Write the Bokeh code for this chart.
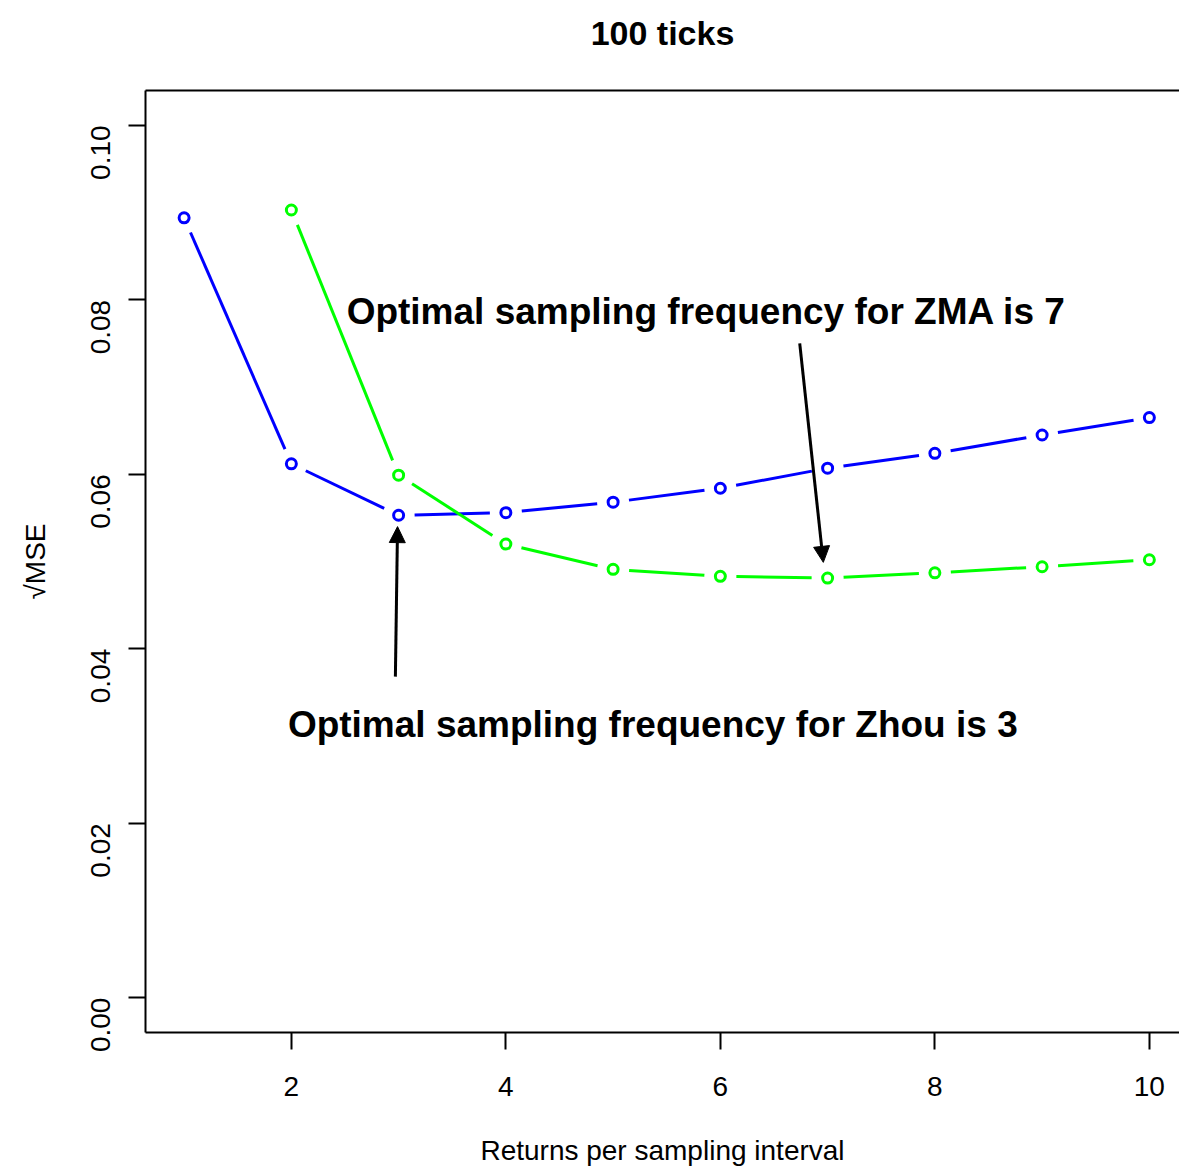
import math
from bokeh.plotting import figure
from bokeh.models import (Range1d, FixedTicker, PrintfTickFormatter, LinearAxis,
                          Label, Arrow, NormalHead, ColumnDataSource)
from bokeh.embed import file_html
from bokeh.resources import INLINE

# ---- data ----
x_vals = [1, 2, 3, 4, 5, 6, 7, 8, 9, 10]
zhou = [0.0894, 0.0612, 0.0553, 0.0556, 0.0568, 0.0584, 0.0607, 0.0624, 0.0645, 0.0665]
zma_x = [2, 3, 4, 5, 6, 7, 8, 9, 10]
zma = [0.0903, 0.0599, 0.0520, 0.0491, 0.0483, 0.0481, 0.0487, 0.0494, 0.0502]
x_ticks = [2, 4, 6, 8, 10]
y_ticks = [0.00, 0.02, 0.04, 0.06, 0.08, 0.10]
title_text = "100 ticks"
x_label = "Returns per sampling interval"
y_label = "√MSE"
note_zma = "Optimal sampling frequency for ZMA is 7"
note_zhou = "Optimal sampling frequency for Zhou is 3"
# annotation anchors (data coords)
note_zma_pos = (5.87, 0.0787)
note_zhou_pos = (5.37, 0.0313)
arrow_zma = (6.74, 0.0750, 6.96, 0.0499)
arrow_zhou = (2.97, 0.0368, 2.99, 0.0540)

FONT = "Liberation Sans"
W, H = 1179, 1168
BL, BT, BB, BR = 145, 90, 135, 0
frame_w = W - BL - BR
frame_h = H - BT - BB
x0 = 0.64
px_per_x = 107.25
x1 = x0 + frame_w / px_per_x
y0, y1 = -0.004, 0.104
px_per_y = frame_h / (y1 - y0)

p = figure(width=W, height=H, output_backend="svg", toolbar_location=None,
           x_range=Range1d(x0, x1), y_range=Range1d(y0, y1),
           min_border_left=BL, min_border_top=BT, min_border_bottom=BB,
           min_border_right=BR)
p.outline_line_color = None
p.grid.visible = False
p.background_fill_color = "white"
p.border_fill_color = "white"

# trailing blank line keeps the title well above the plot box
p.title.text = title_text + "\n"
p.title.align = "center"
p.title.text_font = FONT
p.title.text_font_size = "34px"
p.title.text_font_style = "bold"
p.title.text_color = "black"
p.title.standoff = 2

# axes
for ax in (p.xaxis[0], p.yaxis[0]):
    ax.axis_line_width = 2
    ax.axis_line_color = "black"
    ax.major_tick_line_width = 2
    ax.major_tick_line_color = "black"
    ax.major_tick_in = 0
    ax.major_tick_out = 17
    ax.minor_tick_line_color = None
    ax.major_label_text_font = FONT
    ax.major_label_text_font_size = "28px"
    ax.major_label_text_color = "black"
    ax.axis_label_text_font = FONT
    ax.axis_label_text_font_size = "28px"
    ax.axis_label_text_font_style = "normal"
    ax.axis_label_text_color = "black"

p.xaxis.ticker = FixedTicker(ticks=x_ticks)
p.yaxis.ticker = FixedTicker(ticks=y_ticks)
p.yaxis.formatter = PrintfTickFormatter(format="%.2f")
p.yaxis.major_label_orientation = math.pi / 2
p.xaxis.major_label_standoff = 27
p.yaxis.major_label_standoff = 28
p.xaxis.axis_label = x_label
p.yaxis.axis_label = y_label
p.xaxis.axis_label_standoff = 36
p.yaxis.axis_label_standoff = 28

top_axis = LinearAxis(axis_line_width=2, axis_line_color="black",
                      ticker=FixedTicker(ticks=[]),
                      major_tick_line_color=None, minor_tick_line_color=None)
p.add_layout(top_axis, "above")


def gapped(xs, ys, gap=16):
    sx, sy, ex, ey = [], [], [], []
    for i in range(len(xs) - 1):
        dxp = (xs[i + 1] - xs[i]) * px_per_x
        dyp = (ys[i + 1] - ys[i]) * px_per_y
        L = math.hypot(dxp, dyp)
        if L <= 2 * gap:
            continue
        f = gap / L
        sx.append(xs[i] + (xs[i + 1] - xs[i]) * f)
        sy.append(ys[i] + (ys[i + 1] - ys[i]) * f)
        ex.append(xs[i + 1] - (xs[i + 1] - xs[i]) * f)
        ey.append(ys[i + 1] - (ys[i + 1] - ys[i]) * f)
    return dict(x0=sx, y0=sy, x1=ex, y1=ey)


for xs, ys, col in ((x_vals, zhou, "#0000FF"), (zma_x, zma, "#00FF00")):
    p.segment(x0="x0", y0="y0", x1="x1", y1="y1",
              source=ColumnDataSource(gapped(xs, ys)), line_color=col, line_width=3)
    p.scatter(xs, ys, marker="circle", size=10, fill_color=None,
              line_color=col, line_width=3)

for ax_, ay_, bx_, by_ in (arrow_zma, arrow_zhou):
    p.add_layout(Arrow(x_start=ax_, y_start=ay_, x_end=bx_, y_end=by_,
                       line_width=3, line_color="black",
                       end=NormalHead(size=16, fill_color="black", line_color="black")))

for txt, (tx, ty) in ((note_zma, note_zma_pos), (note_zhou, note_zhou_pos)):
    p.add_layout(Label(x=tx, y=ty, text=txt, text_align="center", text_baseline="middle",
                       text_font=FONT, text_font_size="37px", text_font_style="bold",
                       text_color="black"))

open("out.html", "w").write(file_html(p, INLINE))
